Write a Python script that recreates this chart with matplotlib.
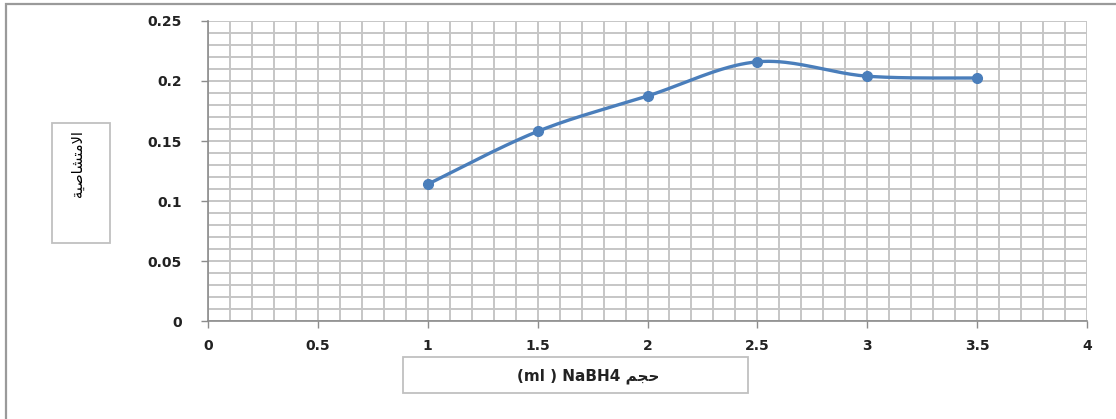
import numpy as np
import matplotlib
matplotlib.use("Agg")
import matplotlib.pyplot as plt
from matplotlib.patches import Rectangle
from matplotlib.ticker import MultipleLocator

# NaBH4 volume (ml) vs absorbance
volume = [1, 1.5, 2, 2.5, 3, 3.5]
absorbance = [0.114, 0.158, 0.1875, 0.216, 0.204, 0.2025]

x_ticks = [0, 0.5, 1, 1.5, 2, 2.5, 3, 3.5, 4]
x_ticklabels = ["0", "0.5", "1", "1.5", "2", "2.5", "3", "3.5", "4"]
y_ticks = [0, 0.05, 0.1, 0.15, 0.2, 0.25]
y_ticklabels = ["0", "0.05", "0.1", "0.15", "0.2", "0.25"]

# Arabic labels in presentation forms, visual order (matplotlib does no shaping)
ylabel_text = "\uFE94\uFEF4\uFEBB\uFE8E\uFEB8\uFE98\uFEE3\uFEFB\uFE8D"  # الامتصاصية
xlabel_text = "(ml ) NaBH4 \uFEE2\uFEA0\uFEA3"  # حجم NaBH4 (ml)

line_col = "#4a7ebb"
grid_col = "#c6c6c6"
text_col = "#222222"


def smooth_curve(xs, ys, n=40):
    # Bezier smoothing with control points from neighbouring points
    p = np.column_stack([xs, ys]).astype(float)
    pts = np.vstack([p[0], p, p[-1]])
    out = []
    for i in range(1, len(pts) - 2):
        p0, p1 = pts[i], pts[i + 1]
        c1 = p0 + (pts[i + 1] - pts[i - 1]) / 6.0
        c2 = p1 - (pts[i + 2] - pts[i]) / 6.0
        t = np.linspace(0, 1, n)[:, None]
        seg = ((1 - t) ** 3) * p0 + 3 * ((1 - t) ** 2) * t * c1 + 3 * (1 - t) * t ** 2 * c2 + t ** 3 * p1
        out.append(seg if i == 1 else seg[1:])
    out = np.vstack(out)
    return out[:, 0], out[:, 1]


W, H = 1116, 419
fig = plt.figure(figsize=(W / 100, H / 100), dpi=100)
fig.patch.set_facecolor("white")

# chart frame
fig.patches.append(Rectangle((6 / W, -0.01), 1.2, 1 - 4 / H + 0.01, transform=fig.transFigure,
                             fill=False, edgecolor="#9a9a9a", linewidth=1.6))

ax = fig.add_axes([208 / W, 1 - 321 / H, (1087 - 208) / W, (321 - 21) / H])
ax.set_xlim(0, 4)
ax.set_ylim(0, 0.25)

ax.xaxis.set_minor_locator(MultipleLocator(0.1))
ax.yaxis.set_minor_locator(MultipleLocator(0.01))
ax.grid(which="both", color=grid_col, linewidth=1.4)
ax.set_axisbelow(True)

ax.set_xticks(x_ticks)
ax.set_xticklabels(x_ticklabels)
ax.set_yticks(y_ticks)
ax.set_yticklabels(y_ticklabels)
for lab in ax.get_xticklabels() + ax.get_yticklabels():
    lab.set_fontweight("bold")

for s in ["top", "right"]:
    ax.spines[s].set_visible(False)
for s in ["left", "bottom"]:
    ax.spines[s].set_color("#8c8c8c")
    ax.spines[s].set_linewidth(1.2)

ax.tick_params(which="major", length=5, color="#8c8c8c", width=1.0,
               labelsize=10, labelcolor=text_col, pad=14)
ax.tick_params(axis="x", pad=8)
ax.tick_params(which="minor", length=0)

sx, sy = smooth_curve(volume, absorbance)
ax.plot(sx, sy, color=line_col, linewidth=2.4, solid_capstyle="round", zorder=3)
ax.plot(volume, absorbance, linestyle="none", marker="o", markersize=7,
        color=line_col, zorder=4)

# axis titles in boxes
fig.text(77 / W, 1 - 164 / H, ylabel_text, rotation=90, ha="center", va="center",
         fontsize=10.5, color="black", family=["DejaVu Sans"])
fig.patches.append(Rectangle((52 / W, 1 - 243 / H), 58 / W, 120 / H, transform=fig.transFigure,
                             fill=False, edgecolor="#c0c0c0", linewidth=1.3))

fig.text(588 / W, 1 - 376 / H, xlabel_text, ha="center", va="center",
         fontsize=11, fontweight="bold", color=text_col, family=["DejaVu Sans"])
fig.patches.append(Rectangle((403 / W, 1 - 393 / H), 345 / W, 36 / H, transform=fig.transFigure,
                             fill=False, edgecolor="#c0c0c0", linewidth=1.3))

fig.savefig("out.png", dpi=100, facecolor="white")
